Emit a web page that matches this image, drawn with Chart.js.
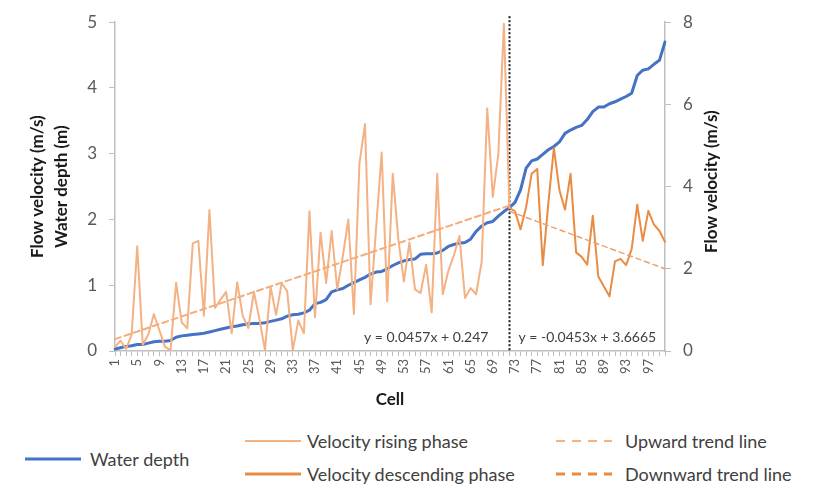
<!DOCTYPE html>
<html><head><meta charset="utf-8">
<script src="https://cdn.jsdelivr.net/npm/chart.js@4"></script>
<style>
html,body{margin:0;padding:0;background:#fff;}
#wrap{position:relative;width:814px;height:488px;overflow:hidden;}
#c{position:absolute;left:0;top:0;}
.lg{position:absolute;font-family:Lato,'Open Sans',sans-serif;font-size:18px;color:#404040;white-space:nowrap;line-height:20px;}
.sw{position:absolute;}
</style></head>
<body><div id="wrap"><canvas id="c" width="814" height="420"></canvas>
<svg class="sw" style="left:25px;top:454px" width="56" height="10"><line x1="0" y1="5" x2="56" y2="5" stroke="#4472C4" stroke-width="3"/></svg>
<div class="lg" style="left:90px;top:449px">Water depth</div>
<svg class="sw" style="left:245px;top:436px" width="56" height="10"><line x1="0" y1="5" x2="56" y2="5" stroke="#F4B183" stroke-width="2"/></svg>
<div class="lg" style="left:307px;top:431px">Velocity rising phase</div>
<svg class="sw" style="left:245px;top:469px" width="56" height="10"><line x1="0" y1="5" x2="56" y2="5" stroke="#E88C44" stroke-width="3"/></svg>
<div class="lg" style="left:307px;top:464px">Velocity descending phase</div>
<svg class="sw" style="left:556px;top:436px" width="56" height="10"><line x1="0" y1="5" x2="56" y2="5" stroke="#F4B183" stroke-width="2" stroke-dasharray="9,7"/></svg>
<div class="lg" style="left:625px;top:431px">Upward trend line</div>
<svg class="sw" style="left:556px;top:469px" width="56" height="10"><line x1="0" y1="5" x2="56" y2="5" stroke="#E88C44" stroke-width="3" stroke-dasharray="9,7"/></svg>
<div class="lg" style="left:625px;top:464px">Downward trend line</div>
</div>
<script>
const cells = ['1','2','3','4','5','6','7','8','9','10','11','12','13','14','15','16','17','18','19','20',
'21','22','23','24','25','26','27','28','29','30','31','32','33','34','35','36','37','38','39','40',
'41','42','43','44','45','46','47','48','49','50','51','52','53','54','55','56','57','58','59','60',
'61','62','63','64','65','66','67','68','69','70','71','72','73','74','75','76','77','78','79','80',
'81','82','83','84','85','86','87','88','89','90','91','92','93','94','95','96','97','98','99','100'];

// Water depth (m), cells 1..100
const waterDepth = [0.03,0.05,0.07,0.08,0.10,0.10,0.12,0.14,0.15,0.15,
0.16,0.21,0.23,0.24,0.25,0.26,0.27,0.29,0.31,0.33,
0.35,0.37,0.38,0.40,0.41,0.42,0.42,0.43,0.45,0.47,
0.49,0.53,0.55,0.56,0.58,0.62,0.72,0.74,0.78,0.90,
0.93,0.95,1.00,1.04,1.08,1.12,1.17,1.20,1.21,1.25,
1.30,1.34,1.37,1.39,1.40,1.47,1.48,1.48,1.49,1.53,
1.59,1.62,1.64,1.65,1.70,1.82,1.90,1.95,1.97,2.05,
2.12,2.18,2.26,2.45,2.78,2.89,2.92,2.99,3.06,3.11,
3.18,3.31,3.36,3.40,3.43,3.52,3.64,3.71,3.71,3.76,
3.79,3.83,3.87,3.92,4.19,4.27,4.29,4.36,4.42,4.70];

// Velocity rising phase (m/s), cells 1..72
const velocityRising = [0.10,0.25,0.05,0.40,2.55,0.15,0.40,0.90,0.50,0.10,
0.02,1.66,0.70,0.55,2.62,2.68,0.86,3.43,1.05,1.25,
1.44,0.43,1.67,0.85,0.56,1.44,0.77,0.02,1.56,0.88,
1.65,1.45,0.02,0.74,0.43,3.40,0.82,2.88,1.65,2.92,
1.50,2.30,3.20,0.90,4.56,5.52,1.14,3.00,4.83,1.21,
4.31,2.72,1.69,2.64,1.50,1.41,2.10,0.94,4.31,1.38,
1.95,2.33,2.80,1.29,1.53,1.38,2.17,5.90,3.75,4.79,
7.96,3.48];

// Velocity descending phase (m/s), cells 72..100
const velocityDescending = [3.48,3.40,2.96,3.50,4.31,4.43,2.09,3.60,4.94,3.91,
3.44,4.31,2.40,2.29,2.10,3.29,1.81,1.57,1.33,2.18,
2.24,2.09,2.48,3.56,2.68,3.41,3.08,2.92,2.66];

// Trend lines (m/s): end points
const upwardTrendCells = ['1','72'];
const upwardTrend = [0.29,3.54];
const downwardTrendCells = ['72','100'];
const downwardTrend = [3.40,2.00];

const leftTicks = [0,1,2,3,4,5];
const rightTicks = [0,2,4,6,8];
const splitCell = '72';
const eqUp = 'y = 0.0457x + 0.247';
const eqDown = 'y = -0.0453x + 3.6665';

const FONT = "Lato, 'Open Sans', sans-serif";
const risingCells = cells.slice(0, velocityRising.length);
const descCells = cells.slice(cells.length - velocityDescending.length);

const overlay = {
  id: 'overlay',
  beforeDatasetsDraw(chart) {
    const {ctx, chartArea: a, scales: {x}} = chart;
    const px = Math.round(x.getPixelForValue(cells.indexOf(splitCell))) + 0.5;
    ctx.save();
    ctx.strokeStyle = '#1a1a1a';
    ctx.lineWidth = 2;
    ctx.setLineDash([2, 2]);
    ctx.beginPath();
    ctx.moveTo(px, a.top - 6);
    ctx.lineTo(px, a.bottom);
    ctx.stroke();
    ctx.restore();
  },
  afterDraw(chart) {
    const {ctx, chartArea: a, scales: {x}} = chart;
    const px = x.getPixelForValue(cells.indexOf(splitCell));
    ctx.save();
    ctx.fillStyle = '#404040';
    ctx.font = '14px ' + FONT;
    ctx.textBaseline = 'middle';
    ctx.textAlign = 'right';
    ctx.fillText(eqUp, px - 21, a.bottom - 14);
    ctx.textAlign = 'left';
    ctx.fillText(eqDown, px + 9, a.bottom - 14);
    // right axis title (reads bottom-to-top)
    ctx.translate(712, (a.top + a.bottom) / 2 - 5);
    ctx.rotate(-Math.PI / 2);
    ctx.textAlign = 'center';
    ctx.fillStyle = '#1a1a1a';
    ctx.font = 'bold 17px ' + FONT;
    ctx.fillText('Flow velocity (m/s)', 0, 0);
    ctx.restore();
  }
};

new Chart(document.getElementById('c'), {
  type: 'line',
  data: {
    labels: cells,
    datasets: [
      {label: 'Upward trend line', data: upwardTrendCells.map((c, i) => ({x: c, y: upwardTrend[i]})),
       yAxisID: 'y1', borderColor: '#F2AD7A', borderWidth: 2, borderDash: [6, 4], pointRadius: 0, order: 1},
      {label: 'Downward trend line', data: downwardTrendCells.map((c, i) => ({x: c, y: downwardTrend[i]})),
       yAxisID: 'y1', borderColor: '#EDA06A', borderWidth: 1.5, borderDash: [5, 4], pointRadius: 0, order: 2},
      {label: 'Velocity rising phase', data: risingCells.map((c, i) => ({x: c, y: velocityRising[i]})),
       yAxisID: 'y1', borderColor: '#F4B183', borderWidth: 2, pointRadius: 0, order: 3},
      {label: 'Velocity descending phase', data: descCells.map((c, i) => ({x: c, y: velocityDescending[i]})),
       yAxisID: 'y1', borderColor: '#E88C44', borderWidth: 2, pointRadius: 0, order: 4},
      {label: 'Water depth', data: waterDepth, yAxisID: 'y',
       borderColor: '#4472C4', borderWidth: 3, pointRadius: 0, order: 5}
    ]
  },
  options: {
    responsive: false,
    animation: false,
    events: [],
    layout: {padding: {top: 15, left: 0, right: 0, bottom: 0}},
    elements: {line: {tension: 0, borderJoinStyle: 'round', borderCapStyle: 'round'}},
    plugins: {legend: {display: false}, tooltip: {enabled: false}},
    scales: {
      x: {
        type: 'category',
        offset: false,
        border: {color: '#BFBFBF', width: 1.5},
        grid: {display: true, drawOnChartArea: false, drawTicks: true, tickLength: 5, color: '#BFBFBF'},
        ticks: {
          autoSkip: false, maxRotation: 90, minRotation: 90, padding: 3,
          color: '#595959', font: {family: FONT, size: 13},
          callback: function (v, i) { return i % 4 === 0 ? this.getLabelForValue(v) : ''; }
        },
        title: {display: true, text: 'Cell', color: '#1a1a1a', font: {family: FONT, size: 17, weight: 'bold', lineHeight: 1.4}, padding: {top: 0, bottom: 9}},
        afterFit: s => { s.height = 69; }
      },
      y: {
        position: 'left', min: 0, max: 5,
        border: {color: '#BFBFBF', width: 1.5},
        grid: {display: true, drawOnChartArea: false, drawTicks: true, tickLength: 6, color: '#BFBFBF'},
        afterBuildTicks: s => { s.ticks = leftTicks.map(v => ({value: v})); },
        ticks: {padding: 12, color: '#595959', font: {family: FONT, size: 17}},
        title: {display: true, text: ['Flow velocity (m/s)', 'Water depth (m)'], color: '#1a1a1a',
                font: {family: FONT, size: 17, weight: 'bold', lineHeight: 24 / 17}, padding: {top: 26, bottom: 0}},
        afterFit: s => { s.width = 115; }
      },
      y1: {
        position: 'right', min: 0, max: 8,
        border: {color: '#BFBFBF', width: 1.5},
        grid: {display: true, drawOnChartArea: false, drawTicks: true, tickLength: 6, color: '#BFBFBF'},
        afterBuildTicks: s => { s.ticks = rightTicks.map(v => ({value: v})); },
        ticks: {padding: 12, color: '#595959', font: {family: FONT, size: 17}},
        afterFit: s => { s.width = 149; }
      }
    }
  },
  plugins: [overlay]
});
</script>
</body></html>
